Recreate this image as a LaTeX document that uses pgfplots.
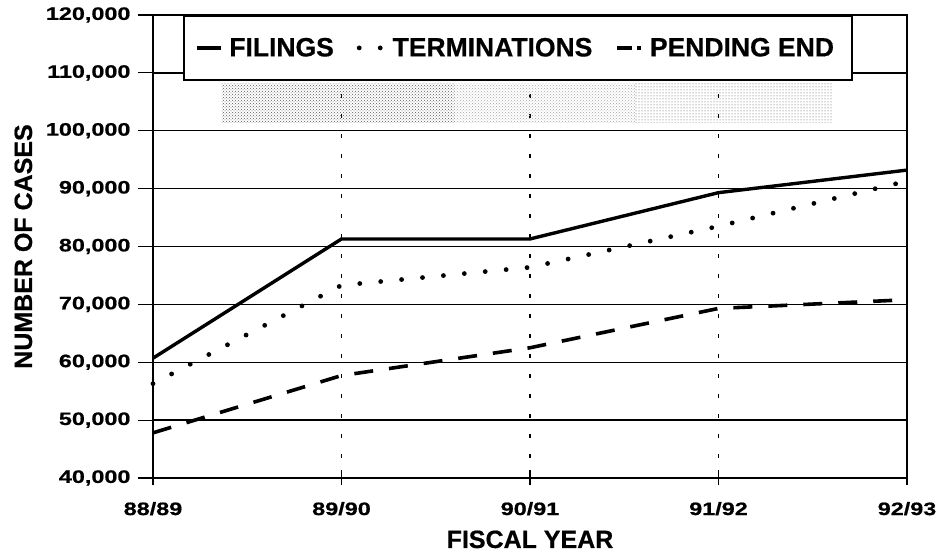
\documentclass[border=0pt]{standalone}
\usepackage{fontspec}
\setmainfont{Liberation Sans}[BoldFeatures={FakeBold=0.6}]
\newfontfamily\tickfont{Liberation Sans}[FakeStretch=1.3, BoldFeatures={FakeBold=0.8}]
\usepackage{pgfplots}
\pgfplotsset{compat=1.18}
\usetikzlibrary{patterns}
\begin{document}
\begin{tikzpicture}
\begin{axis}[
  scale only axis,
  width=754pt, height=463pt,
  xmin=0, xmax=4,
  ymin=40000, ymax=120000,
  scaled y ticks=false,
  scaled x ticks=false,
  xtick={0,1,2,3,4},
  xticklabels={88/89,89/90,90/91,91/92,92/93},
  ytick={40000,50000,60000,70000,80000,90000,100000,110000,120000},
  yticklabels={{40,000},{50,000},{60,000},{70,000},{80,000},{90,000},{100,000},{110,000},{120,000}},
  ticklabel style={font=\tickfont\bfseries\fontsize{18}{20}\selectfont},
  xtick align=center,
  ytick align=outside,
  major tick length=15pt,
  tick style={black, line width=1.2pt},
  xtick pos=bottom,
  ytick pos=left,
  axis line style={line width=2pt},
  ymajorgrids, xmajorgrids,
  major y grid style={black, line width=1.4pt},
  major x grid style={black, line width=1.3pt, dash pattern=on 4pt off 16pt},
  xticklabel style={yshift=-13pt},
  yticklabel style={xshift=-4pt},
  xlabel={FISCAL YEAR},
  ylabel={NUMBER OF CASES},
  label style={font=\bfseries\fontsize{25}{28}\selectfont},
  xlabel style={at={(axis description cs:0.5,0)}, anchor=base, yshift=-70pt},
  ylabel style={at={(rel axis cs:-0.1605,0.5)}, anchor=base},
  legend columns=3,
  legend style={at={(rel axis cs:0.0398,1)}, anchor=north west,
    draw=black, line width=1.8pt, fill=white,
    font=\bfseries\fontsize{26.5}{28}\selectfont,
    inner xsep=11pt, inner ysep=20pt,
    nodes={inner xsep=7pt},
    /tikz/every even column/.append style={column sep=16pt}},
  legend image code/.code={\draw[#1] (0pt,0pt) -- (24pt,0pt);},
  clip=false,
]
\coordinate (ll) at (rel axis cs:0,0);
\coordinate (ur) at (rel axis cs:1,1);
\fill[pattern=crosshatch dots, pattern color=black!65] (rel axis cs:0.0915,0.768) rectangle (rel axis cs:0.40,0.852);
\fill[pattern=crosshatch dots, pattern color=black!35] (rel axis cs:0.40,0.768) rectangle (rel axis cs:0.64,0.852);
\fill[pattern=dots, pattern color=black!70] (rel axis cs:0.64,0.768) rectangle (rel axis cs:0.900,0.852);
\addplot[black, line width=3.4pt, line join=round] coordinates {
  (0,60700) (1,81300) (2,81300) (3,89300) (4,93200)};
\addlegendentry{FILINGS}
\addplot[black, line width=4.8pt, line cap=round, dash pattern=on 0pt off 21pt] coordinates {
  (0,56300) (1,73300) (2,76400) (3,83500) (4,91300)};
\addlegendentry{TERMINATIONS}
\addplot[black, line width=3.6pt, dash pattern=on 19pt off 16pt,
  legend image code/.code={\draw[black, line width=3.6pt, dash pattern=on 15pt off 5pt] (0pt,0pt) -- (24pt,0pt);}] coordinates {
  (0,47800) (1,57700) (2,62500) (3,69300) (4,70800)};
\addlegendentry{PENDING END}
\end{axis}
\pgfresetboundingbox
\path ([shift={(-153pt,-77pt)}]ll) rectangle ([shift={(32pt,15pt)}]ur);
\end{tikzpicture}
\end{document}
